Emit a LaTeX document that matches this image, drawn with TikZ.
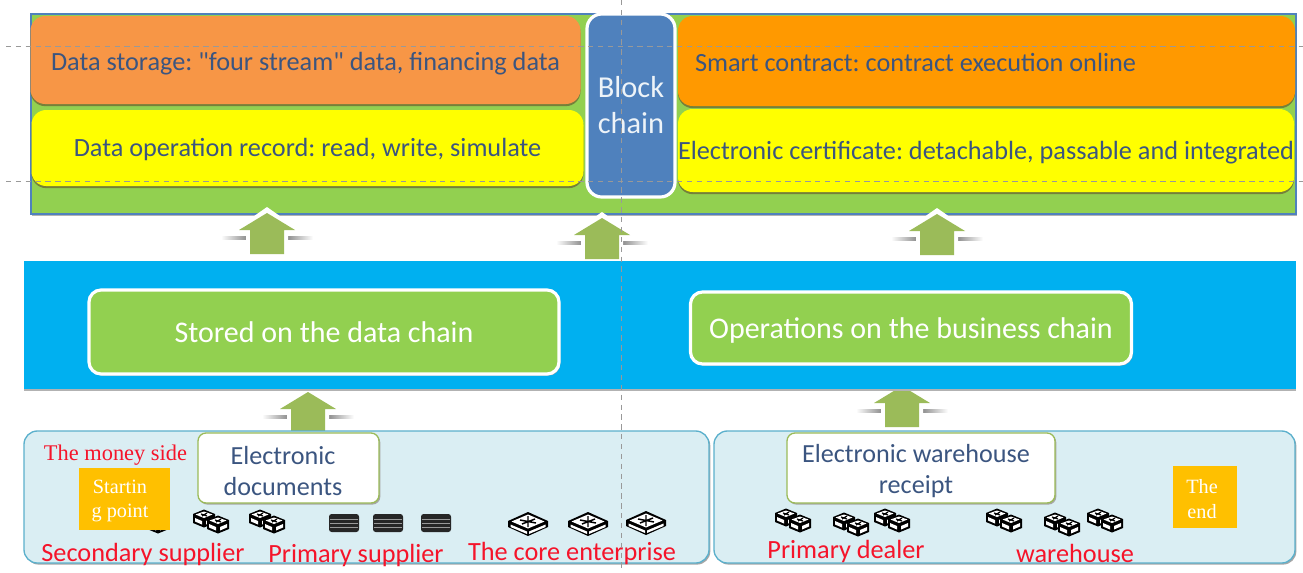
\documentclass[tikz,border=0pt]{standalone}
\usepackage{fontspec}
\setmainfont[Ligatures=TeXOff]{Carlito}
\newfontfamily\timesf{Liberation Serif}
\usetikzlibrary{shadows}
\frenchspacing
\definecolor{panelgreen}{HTML}{92D050}
\definecolor{panelborder}{HTML}{4F81BD}
\definecolor{orangeL}{HTML}{F79646}
\definecolor{orangeR}{HTML}{FF9900}
\definecolor{yel}{HTML}{FFFF00}
\definecolor{bandblue}{HTML}{00B0F0}
\definecolor{paleblue}{HTML}{DAEEF3}
\definecolor{paleedge}{HTML}{5BB0CC}
\definecolor{arrowgreen}{HTML}{9BBB59}
\definecolor{gold}{HTML}{FFC000}
\definecolor{ink}{HTML}{3B5580}
\definecolor{redtext}{HTML}{F5142A}
\definecolor{oliveshade}{HTML}{75803A}
\tikzset{
  x=0.75pt,y=-0.75pt,
  pxsize/.style 2 args={minimum width=#1*0.75pt,minimum height=#2*0.75pt},
  every node/.style={inner sep=0pt,outer sep=0pt,align=center},
  shade dark/.style={general shadow={fill=oliveshade,shadow xshift=0pt,shadow yshift=-1.6pt}},
  shade grey/.style={general shadow={fill=black!35,shadow xshift=1pt,shadow yshift=-1.2pt}},
  topbox/.style={rectangle,rounded corners=11pt,text=ink,font=\fontsize{19.7}{23}\selectfont,shade dark},
  greenbox/.style={rectangle,rounded corners=9pt,fill=panelgreen,draw=white,line width=2.4pt,text=white,font=\fontsize{22.5}{26}\selectfont,shade grey},
  palebox/.style={rectangle,rounded corners=10pt,fill=paleblue,draw=paleedge,line width=1pt,shade grey},
  whitebox/.style={rectangle,rounded corners=6pt,fill=white,draw=arrowgreen,line width=1pt,shade grey},
  whitetext/.style={text=ink,font=\fontsize{19.6}{23.3}\selectfont},
  goldbox/.style={rectangle,fill=gold},
  goldtext/.style={text=white,font=\timesf\fontsize{15.2}{18.6}\selectfont},
  redlabel/.style={text=redtext,font=\fontsize{19.7}{23}\selectfont},
  guide/.style={draw=black!40,line width=0.7pt,dash pattern=on 4pt off 3.4pt},
  pics/blockarrow/.style={code={
    \shade[left color=white,right color=black!45] (-46,29.5) rectangle (-20,32.5);
    \shade[left color=black!45,right color=white] (20,29.5) rectangle (46,32.5);
    \fill[white] (0,0) -- (-40,28) -- (-21,28) -- (-21,54) -- (21,54) -- (21,28) -- (40,28) -- cycle;
    \fill[arrowgreen] (0,6) -- (-28,23) -- (-17,23) -- (-17,47) -- (17,47) -- (17,23) -- (28,23) -- cycle;
  }},
  pics/servercube/.style={code={
    \fill[black] (0,-8.5) -- (11,-4) -- (11,5) -- (0,9.5) -- (-11,5) -- (-11,-4) -- cycle;
    \fill[white] (0,-6.5) -- (8.5,-3.5) -- (0,0) -- (-8.5,-3.5) -- cycle;
    \draw[black,line width=0.9pt] (-3,-4) -- (3,-2) (3,-5) -- (-2,-2);
    \fill[white] (-9,0) -- (-2,3) -- (-2,6.5) -- (-9,3.5) -- cycle;
    \fill[white] (2,3) -- (9,0) -- (9,3.5) -- (2,6.5) -- cycle;
  }},
  pics/serverpair/.style={code={
    \pic at (-7,-3) {servercube};
    \pic at (7,3) {servercube};
  }},
  pics/diskstack/.style={code={
    \fill[black!85,rounded corners=2pt] (-15,-9) rectangle (15,9);
    \draw[white!60!black,line width=0.5pt] (-14,-3.5) -- (14,-3.5) (-14,0) -- (14,0) (-14,4) -- (14,4);
  }},
  pics/switchbox/.style={code={
    \fill[black] (0,-12) -- (20,-3) -- (20,3) -- (0,12) -- (-20,3) -- (-20,-3) -- cycle;
    \fill[white] (0,-9.5) -- (16.5,-2.5) -- (0,4.5) -- (-16.5,-2.5) -- cycle;
    \fill[white] (-17.5,0.5) -- (-1,7.5) -- (-1,10) -- (-17.5,3) -- cycle;
    \fill[white] (1,7.5) -- (17.5,0.5) -- (17.5,3) -- (1,10) -- cycle;
    \draw[black,line width=1.1pt] (-8,-4) -- (8,-1) (-6,0) -- (7,-5) (0,-8) -- (0,3);
  }},
}
\begin{document}
\begin{tikzpicture}
\useasboundingbox (0,0) rectangle (1303,572);
\fill[white] (0,0) rectangle (1303,572);

% top panel
\node[pxsize={1265}{200},fill=panelgreen,draw=panelborder,line width=1pt,general shadow={fill=black!30,shadow xshift=1pt,shadow yshift=-1.5pt}] (panel) at (663.5,114) {};
\node[topbox,pxsize={550}{88},fill=orangeL,text height=15pt,text depth=0pt] (storage) at (305.5,60) {Data storage: "four stream" data, financing data};
\node[topbox,pxsize={552}{76},fill=yel,text height=13.4pt,text depth=0pt] (oprec) at (307.5,148) {Data operation record: read, write, simulate};
\node[topbox,pxsize={617}{90},fill=orangeR] (smart) at (986.5,61) {};
\node[text=ink,font=\fontsize{19.7}{23}\selectfont,anchor=west] (smartt) at (695,62) {Smart contract: contract execution online};
\node[topbox,pxsize={616}{83},fill=yel,text height=13.4pt,text depth=0pt] (cert) at (986,150.5) {Electronic certificate: detachable, passable and integrated};
\node[rectangle,rounded corners=11pt,pxsize={88}{183},fill=panelborder,draw=white,line width=2.4pt,text=white!90!panelborder,font=\fontsize{22.8}{27}\selectfont] (chain) at (631,105.5) {Block\\chain};

% arrows
\pic at (267,207) {blockarrow};
\pic at (602,212) {blockarrow};
\pic at (937,208) {blockarrow};
\pic at (308,386) {blockarrow};
\pic at (902,380) {blockarrow};

% band
\node[pxsize={1272}{128},fill=bandblue,general shadow={fill=black!30,shadow xshift=0pt,shadow yshift=-1.5pt}] (band) at (660,325) {};
\node[greenbox,pxsize={470}{84},text height=15pt,text depth=0pt] (datachain) at (324,332) {Stored on the data chain};
\node[greenbox,pxsize={441}{72},text height=16pt,text depth=0pt] (bizchain) at (911,328) {Operations on the business chain};

% bottom panels
\node[palebox,pxsize={685}{132}] (left) at (366.5,497) {};
\node[palebox,pxsize={581}{132}] (right) at (1004.5,497) {};

% icons
\pic at (151,521) {serverpair};
\pic at (211,521) {serverpair};
\pic at (267,521) {serverpair};
\pic at (344,523) {diskstack};
\pic at (388,523) {diskstack};
\pic at (436,523) {diskstack};
\pic at (528,524) {switchbox};
\pic at (588,524) {switchbox};
\pic at (646,523) {switchbox};
\pic at (793,520) {serverpair};
\pic at (851,524) {serverpair};
\pic at (892,520) {serverpair};
\pic at (1004,520) {serverpair};
\pic at (1062,524) {serverpair};
\pic at (1105,520) {serverpair};

% bottom content
\node[goldbox,pxsize={91}{62}] (start) at (124.5,499) {};
\node[goldtext] (startt) at (120,501) {Startin\\g point};
\node[goldbox,pxsize={64}{62}] (theend) at (1205,497) {};
\node[goldtext] (theendt) at (1202,499) {The\\end};
\node[whitebox,pxsize={181}{70}] (docs) at (288.5,468) {};
\node[whitetext] (docst) at (283,471) {Electronic\\documents};
\node[whitebox,pxsize={268}{70}] (receipt) at (921,468) {};
\node[whitetext] (receiptt) at (916,471) {Electronic warehouse\\receipt};
\node[text=redtext,font=\timesf\fontsize{16.8}{20}\selectfont] (money) at (115.5,455) {The money side};
\node[redlabel] (sec) at (143,554) {Secondary supplier};
\node[redlabel] (prim) at (356,555) {Primary supplier};
\node[redlabel] (core) at (572,553) {The core enterprise};
\node[redlabel] (dealer) at (846,551) {Primary dealer};
\node[redlabel] (ware) at (1075,553) {warehouse};

% guides
\draw[guide] (6,46) -- (1303,46);
\draw[guide] (6,181) -- (1303,181);
\draw[guide] (621,0) -- (621,572);
\end{tikzpicture}
\end{document}
